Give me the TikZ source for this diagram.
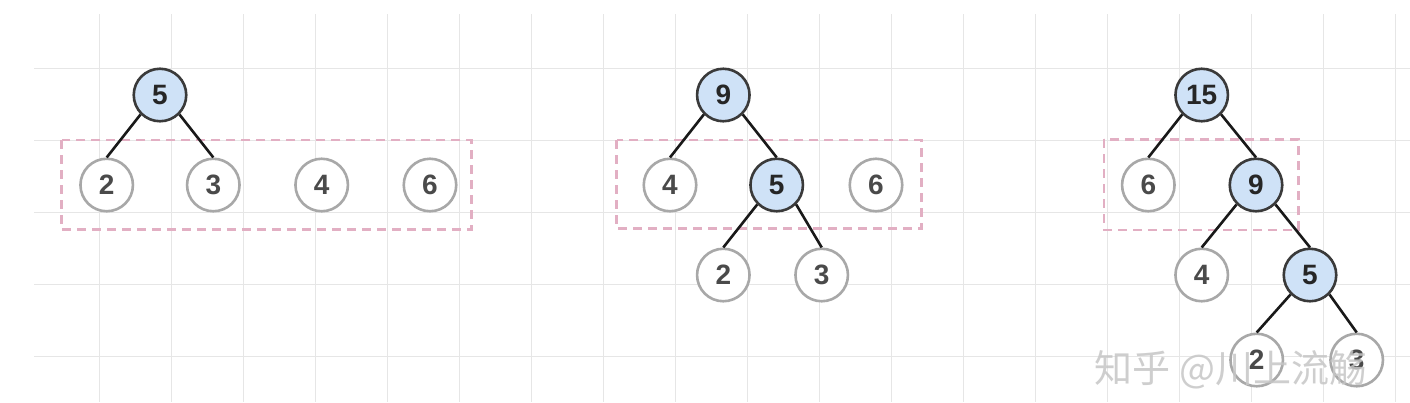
\documentclass[tikz,border=0pt]{standalone}
\usepackage{fontspec}
\setmainfont{Liberation Sans}
\newfontfamily\cjk{Noto Sans CJK SC}
\usetikzlibrary{positioning,calc}
\definecolor{gridgray}{HTML}{E6E6E6}
\definecolor{hblue}{HTML}{CFE2F7}
\definecolor{hborder}{HTML}{3A3A3A}
\definecolor{lborder}{HTML}{A8A8A8}
\definecolor{ltext}{HTML}{4A4A4A}
\definecolor{boxpink}{HTML}{E2AFC3}
\tikzset{
  basic/.style  = {circle, draw, line width=2.6pt, inner sep=0pt, minimum size=52.5pt,
  font=\fontsize{28}{30}\selectfont\bfseries},
  hnode/.style  = {basic, fill=hblue, draw=hborder, text=black!85},
  leaf/.style   = {basic, fill=white, draw=lborder, text=ltext},
  link/.style   = {line width=2.6pt, black!90},
  dashbox/.style = {draw=boxpink, line width=2.6pt, dash pattern=on 9pt off 6pt},
  gridline/.style = {draw=gridgray, line width=1pt},
  mark text/.style = {font=\cjk\fontsize{38}{40}\selectfont, text=gray!45, opacity=0.85}
}

\begin{document}
\begin{tikzpicture}[on grid]
\useasboundingbox[fill=white] (0,0) rectangle (1410pt,-402pt);
% grid
\foreach \x in {0,...,18}
  \draw[gridline] ({99.3pt+\x*72pt},-14pt) -- ++(0,-388pt);
\foreach \y in {0,...,4}
  \draw[gridline] (34pt,{-68.3pt-\y*72pt}) -- (1410pt,{-68.3pt-\y*72pt});

% first step
\node[hnode] (a5) at (160pt,-95pt) {5};
\node[leaf, below left=90pt and 53.3pt of a5] (a2) {2};
\node[leaf, below right=90pt and 53.3pt of a5] (a3) {3};
\node[leaf, right=108.4pt of a3] (a4) {4};
\node[leaf, right=108.3pt of a4] (a6) {6};
\draw[dashbox] ($(a2.center)+(-45pt,45pt)$) rectangle ($(a6.center)+(41.7pt,-44.3pt)$);
\path[link] (a5.south west) edge (a2.north);
\path[link] (a5.south east) edge (a3.north);

% second step
\node[hnode] (b9) at (723.3pt,-95pt) {9};
\node[leaf, below left=90pt and 53.3pt of b9] (b4) {4};
\node[hnode, below right=90pt and 53.4pt of b9] (b5) {5};
\node[leaf, right=99.3pt of b5] (b6) {6};
\node[leaf, below left=90pt and 53.4pt of b5] (b2) {2};
\node[leaf, below right=90pt and 45pt of b5] (b3) {3};
\draw[dashbox] ($(b4.center)+(-53.3pt,45pt)$) rectangle ($(b6.center)+(45.7pt,-43.3pt)$);
\path[link] (b9.south west) edge (b4.north);
\path[link] (b9.south east) edge (b5.north);
\path[link] (b5.south west) edge (b2.north);
\path[link] (b5.south east) edge (b3.north);

% third step
\node[hnode] (c15) at (1201.7pt,-95pt) {15};
\node[leaf, below left=90pt and 53.4pt of c15] (c6) {6};
\node[hnode, below right=90pt and 54.3pt of c15] (c9) {9};
\node[leaf, below left=90pt and 54.3pt of c9] (c4) {4};
\node[hnode, below right=90pt and 54pt of c9] (c5) {5};
\node[leaf, below left=85pt and 53.3pt of c5] (c2) {2};
\node[leaf, below right=85pt and 46.7pt of c5] (c3) {3};
\draw[dashbox] ($(c6.center)+(-44.3pt,45.7pt)$) rectangle ($(c9.center)+(42.3pt,-45pt)$);
\path[link] (c15.south west) edge (c6.north);
\path[link] (c15.south east) edge (c9.north);
\path[link] (c9.south west) edge (c4.north);
\path[link] (c9.south east) edge (c5.north);
\path[link] (c5.south west) edge (c2.north);
\path[link] (c5.south east) edge (c3.north);

\node[mark text] (wmark) at (1231pt,-370pt) {知乎 @川上流觞};
\end{tikzpicture}
\end{document}
